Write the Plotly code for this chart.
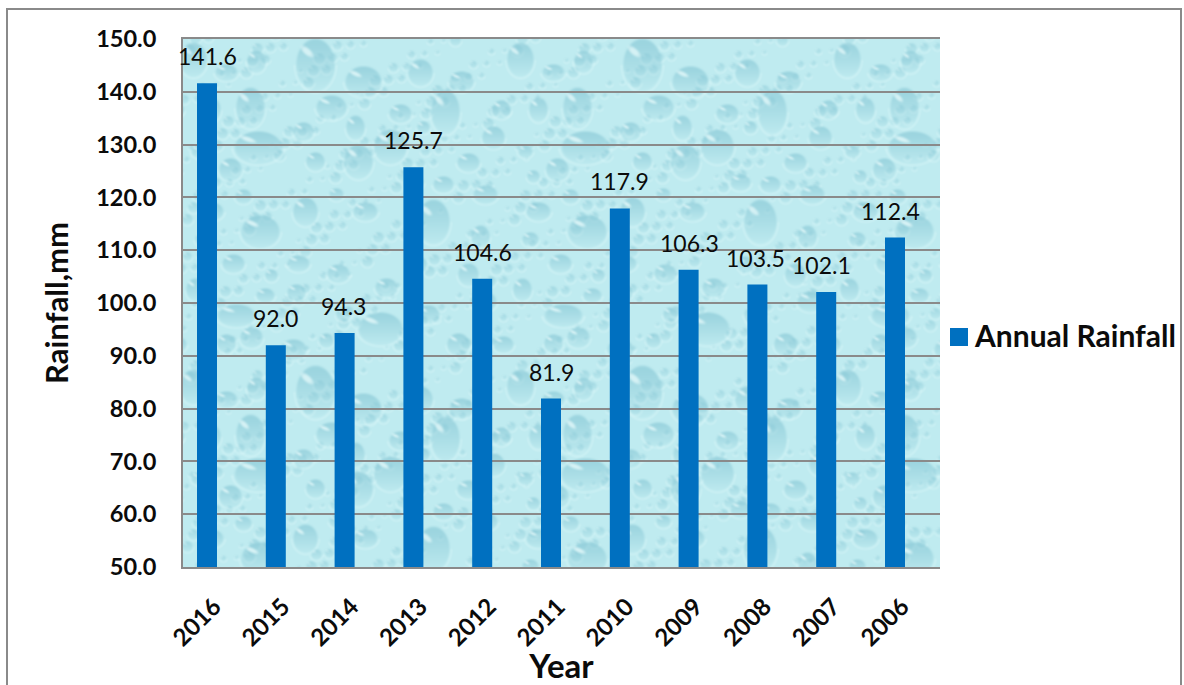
import base64
import struct
import zlib

import numpy as np
import plotly.graph_objects as go

# Annual rainfall series
years = ["2016", "2015", "2014", "2013", "2012", "2011", "2010", "2009", "2008", "2007", "2006"]
rainfall = [141.6, 92.0, 94.3, 125.7, 104.6, 81.9, 117.9, 106.3, 103.5, 102.1, 112.4]
y_ticks = [50, 60, 70, 80, 90, 100, 110, 120, 130, 140, 150]
label_nudge = [0, 0, -1, 0, 0, 0, 0, 1, -2, -5, -5]

WIDTH, HEIGHT = 1184, 685
LEFT, RIGHT, TOP, BOTTOM = 183, 940, 39, 567
FONT = "Lato"
INK = "#0b0b0b"
GREY = "#8a8a8a"
BLUE = "#0070C0"

# Large water drops of the repeating wallpaper tile: cx, cy, rx, ry
TILE = 327
DROPS = [
    (132, 25, 20, 27), (180, 42, 19, 16), (237, 33, 13, 14), (278, 42, 13, 11), (10, 20, 14, 18),
    (73, 22, 10, 12), (43, 33, 12, 9), (67, 68, 15, 21), (148, 68, 16, 13), (28, 70, 10, 13),
    (217, 74, 12, 10), (172, 88, 10, 13), (262, 72, 15, 23), (318, 70, 10, 10), (120, 92, 11, 10),
    (240, 88, 7, 7), (310, 98, 12, 12), (75, 108, 25, 17), (207, 107, 17, 18), (175, 122, 15, 18),
    (132, 122, 10, 10), (47, 130, 12, 12), (15, 112, 8, 7), (230, 143, 11, 9), (260, 145, 11, 9),
    (285, 123, 12, 10), (302, 155, 13, 10), (23, 137, 7, 7), (60, 157, 9, 8), (153, 155, 8, 7),
    (28, 172, 13, 10), (122, 172, 13, 15), (182, 172, 13, 10), (77, 192, 20, 17), (250, 182, 17, 23),
    (297, 197, 10, 12), (50, 224, 12, 10), (115, 224, 12, 9), (155, 234, 12, 10), (203, 248, 12, 10),
    (88, 236, 7, 7), (113, 253, 10, 9), (82, 256, 10, 8), (43, 304, 10, 10), (68, 298, 12, 11),
    (53, 276, 20, 12), (197, 289, 23, 17), (143, 301, 8, 8), (245, 275, 12, 10), (300, 262, 14, 11),
    (275, 305, 12, 12), (12, 250, 10, 12), (160, 275, 8, 8), (320, 305, 11, 9), (235, 225, 9, 9),
    (285, 235, 11, 12), (110, 310, 14, 11), (20, 200, 9, 8),
]
# Fine droplets filling the gaps between the big ones
SPECKLES = [
    (int(i * 0.6180339 * TILE) % TILE, int(i * 0.7548777 * TILE) % TILE, 2.5 + (i * 7 % 5) * 0.9)
    for i in range(1, 300)
]


def stamp(tile, cx, cy, rx, ry, depth, sparkle):
    yy, xx = np.mgrid[0:TILE, 0:TILE].astype(float)
    dx = (xx - cx + TILE / 2) % TILE - TILE / 2
    dy = (yy - cy + TILE / 2) % TILE - TILE / 2
    d = np.sqrt((dx / rx) ** 2 + (dy / ry) ** 2)
    inside = np.clip((1.0 - d) * min(rx, ry) / 2.0, 0, 1)
    fall = np.clip(0.6 - dy / ry * 0.55, 0, 1)
    shade = np.array([136, 200, 214], float)
    glow = np.array([216, 246, 248], float)
    alpha = (inside * fall * depth)[..., None]
    tile[:] = tile * (1 - alpha) + shade * alpha
    # bright rim under the drop and a glint at its upper left
    rim = (np.clip(1 - np.abs(d - 1.05) * min(rx, ry) / 1.5, 0, 1) * (dy > 0) * 0.6)[..., None]
    tile[:] = tile * (1 - rim) + glow * rim
    gx, gy = (dx + rx * 0.42) / (rx * 0.38), (dy + ry * 0.48) / (ry * 0.14)
    u, v = (gx + gy * 0.25) * 0.8, (gy - gx * 1.6) * 0.8
    glint = (np.clip(1.2 - (u * u + v * v), 0, 1) * sparkle)[..., None]
    tile[:] = tile * (1 - glint) + np.array([230, 250, 251], float) * glint


def wallpaper(w, h):
    tile = np.empty((TILE, TILE, 3), float)
    tile[:] = (191, 235, 240)
    for cx, cy, r in SPECKLES:
        stamp(tile, cx, cy, r, r, 0.5, 0.5)
    for cx, cy, rx, ry in DROPS:
        stamp(tile, cx, cy, rx, ry, 0.62, 0.75)
    # soften by a small box filter
    soft = sum(np.roll(np.roll(tile, a, 0), b, 1) for a in (-1, 0, 1) for b in (-1, 0, 1)) / 9
    reps = (h // TILE + 1, w // TILE + 1, 1)
    return np.tile(soft, reps)[:h, :w].astype(np.uint8)


def png_uri(rgb):
    h, w, _ = rgb.shape
    raw = b"".join(b"\x00" + rgb[r].tobytes() for r in range(h))

    def chunk(tag, body):
        return struct.pack(">I", len(body)) + tag + body + struct.pack(">I", zlib.crc32(tag + body))

    blob = (
        b"\x89PNG\r\n\x1a\n"
        + chunk(b"IHDR", struct.pack(">IIBBBBB", w, h, 8, 2, 0, 0, 0))
        + chunk(b"IDAT", zlib.compress(raw, 9))
        + chunk(b"IEND", b"")
    )
    return "data:image/png;base64," + base64.b64encode(blob).decode()


def px(x):
    return (x - LEFT) / (RIGHT - LEFT)


def py(y):
    return (BOTTOM - y) / (BOTTOM - TOP)


fig = go.Figure(
    go.Bar(x=years, y=rainfall, width=20 / 68.8, marker=dict(color=BLUE, line=dict(width=0)),
           name="Annual Rainfall", showlegend=False, hoverinfo="x+y")
)

annotations = [
    dict(x=i, y=v, xref="x", yref="y", text=f"{v:.1f}", showarrow=False, yshift=27, xshift=dx,
         xanchor="center", yanchor="middle", font=dict(family=FONT, size=23, color=INK))
    for i, (v, dx) in enumerate(zip(rainfall, label_nudge))
]
annotations.append(
    dict(x=px(972), y=py(335), xref="paper", yref="paper", text="<b>Annual Rainfall</b>", showarrow=False,
         xanchor="left", yanchor="middle", font=dict(family=FONT, size=30, color=INK))
)

shapes = [
    # chart frame: open at the bottom edge
    dict(type="path", xref="paper", yref="paper", layer="below",
         path=f"M {px(7)} {py(690)} L {px(7)} {py(9)} L {px(1181)} {py(9)} L {px(1181)} {py(690)}",
         line=dict(color=GREY, width=2)),
    # legend swatch
    dict(type="rect", xref="paper", yref="paper", x0=px(950), x1=px(968), y0=py(346), y1=py(328),
         fillcolor=BLUE, line=dict(width=0)),
]

fig.update_layout(
    width=WIDTH,
    height=HEIGHT,
    margin=dict(l=LEFT, r=WIDTH - RIGHT, t=TOP, b=HEIGHT - BOTTOM, autoexpand=False),
    paper_bgcolor="white",
    plot_bgcolor="rgba(0,0,0,0)",
    showlegend=False,
    annotations=annotations,
    shapes=shapes,
    images=[dict(source=png_uri(wallpaper(RIGHT - LEFT, BOTTOM - TOP)), xref="paper", yref="paper",
                 x=0, y=1, sizex=1, sizey=1, sizing="stretch", xanchor="left", yanchor="top", layer="below")],
    xaxis=dict(
        type="category",
        categoryorder="array",
        categoryarray=years,
        range=[-24 / 68.8, 10 + 45 / 68.8],
        tickangle=-45,
        ticks="",
        ticklabelstandoff=14,
        ticklabelshift=7,
        showgrid=False,
        showline=True,
        mirror=True,
        linecolor=GREY,
        linewidth=2,
        tickfont=dict(family=FONT, size=24, color=INK, weight="bold"),
        title=dict(text="<b>Year</b>", font=dict(family=FONT, size=33, color=INK), standoff=7),
        automargin=False,
    ),
    yaxis=dict(
        range=[50, 150],
        tickvals=y_ticks,
        tickformat=".1f",
        ticks="",
        ticklabelstandoff=20,
        showgrid=True,
        gridcolor=GREY,
        gridwidth=2,
        zeroline=False,
        showline=True,
        linecolor=GREY,
        linewidth=2,
        mirror=False,
        tickfont=dict(family=FONT, size=23.5, color=INK, weight="bold"),
        title=dict(text="<b>Rainfall,mm</b>", font=dict(family=FONT, size=31, color=INK), standoff=18),
        automargin=False,
    ),
)

fig.write_html("out.html", config={"displayModeBar": False})
